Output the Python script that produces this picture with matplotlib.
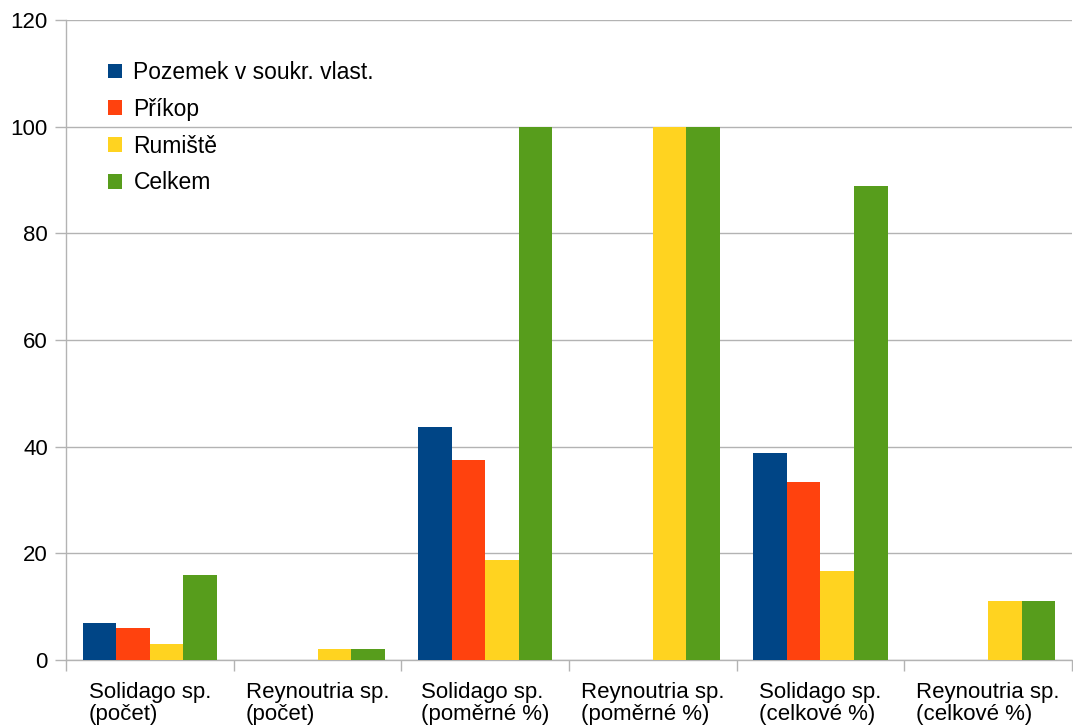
import numpy as np
import matplotlib
matplotlib.use('Agg')
import matplotlib.pyplot as plt
from matplotlib.patches import Patch

plt.rcParams['font.family'] = ['Liberation Sans', 'DejaVu Sans']

# data
categories = ['Solidago sp.\n(počet)', 'Reynoutria sp.\n(počet)',
              'Solidago sp.\n(poměrné %)', 'Reynoutria sp.\n(poměrné %)',
              'Solidago sp.\n(celkové %)', 'Reynoutria sp.\n(celkové %)']
series_names = ['Pozemek v soukr. vlast.', 'Příkop', 'Rumiště', 'Celkem']
pozemek = [7, 0, 43.75, 0, 38.89, 0]
prikop = [6, 0, 37.5, 0, 33.33, 0]
rumiste = [3, 2, 18.75, 100, 16.67, 11.11]
celkem = [16, 2, 100, 100, 88.89, 11.11]
colors = ['#004586', '#ff420e', '#ffd320', '#579d1c']
yticks = [0, 20, 40, 60, 80, 100, 120]

fig = plt.figure(figsize=(10.73, 7.27), dpi=100)
ax = fig.add_axes([66 / 1073, 67 / 727, 1006 / 1073, 640 / 727])

x = np.arange(len(categories))
width = 0.2
for i, (vals, col) in enumerate(zip([pozemek, prikop, rumiste, celkem], colors)):
    ax.bar(x + (i - 1.5) * width, vals, width, color=col, zorder=3)

ax.set_xlim(-0.5, len(categories) - 0.5)
ax.set_ylim(0, 120)
ax.set_yticks(yticks)
ax.tick_params(axis='y', length=8, width=1, color='#b3b3b3', pad=5,
               labelsize=16)
ax.grid(axis='y', color='#b3b3b3', linewidth=1, zorder=0)

ax.set_xticks(x)
ax.set_xticklabels(categories, fontsize=16, multialignment='left',
                   linespacing=1.05)
ax.tick_params(axis='x', length=0, pad=16)
ax.set_xticks(np.arange(len(categories) + 1) - 0.5, minor=True)
ax.tick_params(axis='x', which='minor', length=8, width=1, color='#b3b3b3')

for s in ['top', 'right']:
    ax.spines[s].set_visible(False)
for s in ['left', 'bottom']:
    ax.spines[s].set_color('#b3b3b3')
    ax.spines[s].set_linewidth(1)

handles = [Patch(facecolor=c, edgecolor='none') for c in colors]
ax.legend(handles, series_names, loc='upper left', bbox_to_anchor=(0.021, 0.968),
          frameon=False, fontsize=16.5, handlelength=0.62, handleheight=0.62,
          handletextpad=0.5, labelspacing=0.6)

fig.savefig('out.png', dpi=100)
